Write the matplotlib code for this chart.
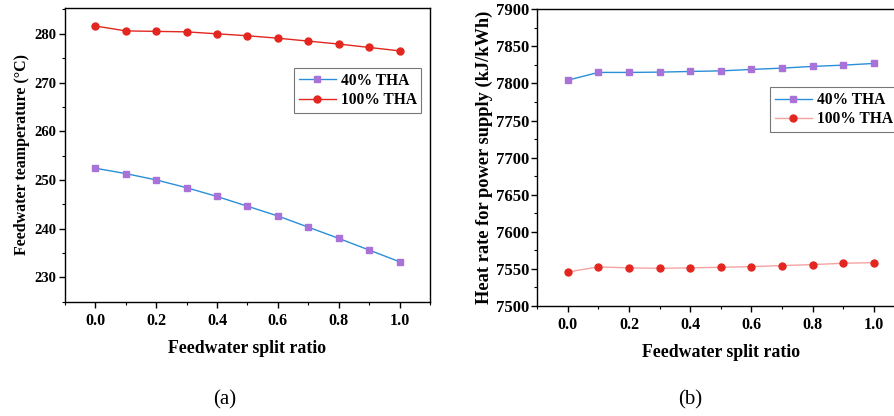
import matplotlib
matplotlib.use("Agg")
import matplotlib.pyplot as plt
from matplotlib.ticker import MultipleLocator

split_ratio = [0.0, 0.1, 0.2, 0.3, 0.4, 0.5, 0.6, 0.7, 0.8, 0.9, 1.0]
temp_40 = [252.4, 251.3, 250.0, 248.4, 246.6, 244.6, 242.6, 240.3, 238.0, 235.6, 233.2]
temp_100 = [281.6, 280.6, 280.5, 280.4, 280.0, 279.6, 279.1, 278.5, 277.9, 277.2, 276.5]
hr_40 = [7804.5, 7814.9, 7814.9, 7815.3, 7816.2, 7817.0, 7818.9, 7820.7, 7823.0, 7824.7, 7827.0]
hr_100 = [7545.9, 7552.7, 7551.4, 7550.8, 7551.4, 7552.2, 7553.1, 7554.5, 7555.8, 7557.6, 7558.5]
labels = ["40% THA", "100% THA"]
xtick_labels = ['0.0', '0.2', '0.4', '0.6', '0.8', '1.0']

plt.rcParams['font.family'] = ['Liberation Serif', 'DejaVu Serif']
plt.rcParams['font.weight'] = 'bold'

W, H = 894, 416
fig = plt.figure(figsize=(W / 100, H / 100), dpi=100)

blue = '#2a8fd8'
purple = '#a872d8'
red = '#e3261f'
pink = '#f4a3a3'

def style(ax, ysize):
    ax.tick_params(axis='both', which='major', direction='out', length=4, width=1,
                   pad=2, top=False, right=False)
    ax.tick_params(axis='x', which='major', labelsize=11.5, pad=4)
    ax.tick_params(axis='y', which='major', labelsize=ysize)
    ax.tick_params(axis='both', which='minor', direction='out', length=2, width=0.8,
                   top=False, right=False)
    for s in ax.spines.values():
        s.set_linewidth(1.0)
    for lab in ax.get_xticklabels() + ax.get_yticklabels():
        lab.set_fontweight('bold')

def legend(ax, anchor):
    leg = ax.legend(loc='upper left', bbox_to_anchor=anchor, fontsize=11.2,
                    frameon=True, fancybox=False, edgecolor='#555555', handlelength=2.4,
                    borderpad=0.3, labelspacing=0.2, handletextpad=0.3, borderaxespad=0)
    leg.get_frame().set_linewidth(0.8)
    for t in leg.get_texts():
        t.set_fontweight('bold')

xticks = [0.0, 0.2, 0.4, 0.6, 0.8, 1.0]

# (a)
ax1 = fig.add_axes([65 / W, 1 - 301.7 / H, 365 / W, 293.7 / H])
ax1.plot(split_ratio, temp_40, color=blue, lw=1.0, marker='s', ms=5,
         mfc=purple, mec=purple, label=labels[0])
ax1.plot(split_ratio, temp_100, color=red, lw=1.0, marker='o', ms=5,
         mfc=red, mec=red, label=labels[1])
ax1.set_xlim(-0.1, 1.1)
ax1.set_ylim(225, 285.3)
ax1.set_xticks(xticks)
ax1.set_xticklabels(xtick_labels)
ax1.xaxis.set_minor_locator(MultipleLocator(0.1))
ax1.yaxis.set_major_locator(MultipleLocator(10))
ax1.yaxis.set_minor_locator(MultipleLocator(5))
style(ax1, 10.5)
ax1.set_xlabel('Feedwater split ratio', fontsize=12.8, fontweight='bold', labelpad=8)
ax1.set_ylabel('Feedwater teamperature (°C)', fontsize=11.5, fontweight='bold', labelpad=3)
legend(ax1, (0.627, 0.795))

# (b)
ax2 = fig.add_axes([537.3 / W, 1 - 306 / H, 367 / W, 296.7 / H])
ax2.plot(split_ratio, hr_40, color=blue, lw=1.0, marker='s', ms=5,
         mfc=purple, mec=purple, label=labels[0])
ax2.plot(split_ratio, hr_100, color=pink, lw=1.0, marker='o', ms=5,
         mfc=red, mec=red, label=labels[1])
ax2.set_xlim(-0.1, 1.1)
ax2.set_ylim(7500, 7900)
ax2.set_xticks(xticks)
ax2.set_xticklabels(xtick_labels)
ax2.xaxis.set_minor_locator(MultipleLocator(0.1))
ax2.yaxis.set_major_locator(MultipleLocator(50))
ax2.yaxis.set_minor_locator(MultipleLocator(25))
style(ax2, 12)
ax2.set_xlabel('Feedwater split ratio', fontsize=12.8, fontweight='bold', labelpad=8)
ax2.set_ylabel('Heat rate for power supply (kJ/kWh)', fontsize=13.2, fontweight='bold', labelpad=2)
legend(ax2, (0.634, 0.737))

fig.text(225 / W, 1 - 400 / H, '(a)', ha='center', va='center', fontsize=15, fontweight='normal')
fig.text(690 / W, 1 - 400 / H, '(b)', ha='center', va='center', fontsize=15, fontweight='normal')

fig.savefig('out.png', dpi=100)
